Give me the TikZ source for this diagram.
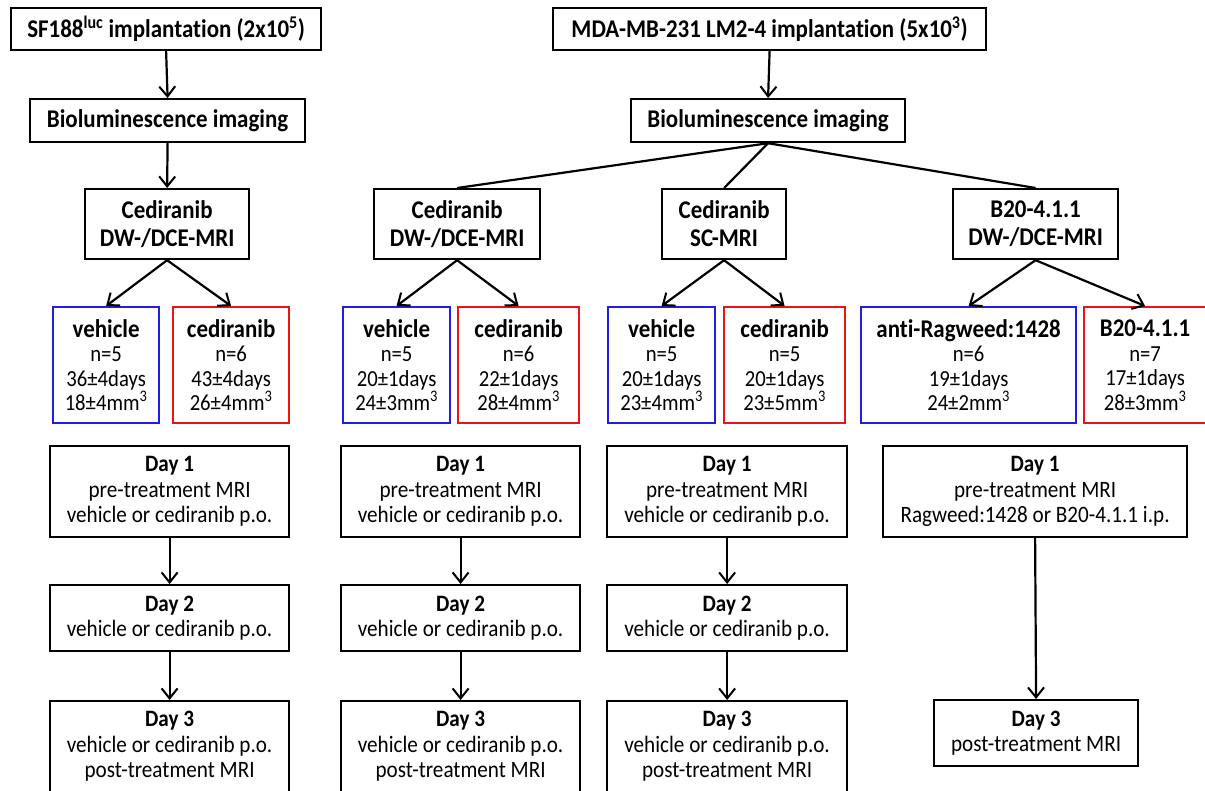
\documentclass[tikz,border=0pt]{standalone}
\usepackage{fontspec}
\setmainfont{Carlito}[Ligatures=CommonOff, FakeStretch=0.9]
\usetikzlibrary{arrows.meta}
\definecolor{gblue}{RGB}{30,30,230}
\definecolor{gred}{RGB}{235,20,20}
\tikzset{
  bx/.style={draw=black, line width=2.2pt, anchor=north west, inner sep=0pt, align=center,
    font=\fontsize{23.5}{25.5}\selectfont},
  big/.style={bx, font=\fontsize{25.5}{28}\selectfont\bfseries},
  grp/.style={bx, minimum height=116pt, font=\fontsize{23}{24.5}\selectfont},
  veh/.style={grp, draw=gblue},
  ced/.style={grp, draw=gred},
  arr/.style={line width=2.2pt, -{Straight Barb[length=10pt,width=16pt,line width=2pt]}},
  ln/.style={line width=2.2pt}
}
\newcommand{\hd}[1]{{\fontsize{25.5}{24.5}\selectfont\bfseries #1}}
\begin{document}
\begin{tikzpicture}[x=1pt,y=-1pt]
\useasboundingbox (0,0) rectangle (1205,790);
\clip (0,0) rectangle (1205,790);
% top
\node[big, minimum width=310pt, minimum height=42pt] (sf) at (10,7) {SF188\textsuperscript{luc} implantation (2x10\textsuperscript{5})};
\node[big, minimum width=433pt, minimum height=42pt] (mda) at (552,7) {MDA-MB-231 LM2-4 implantation (5x10\textsuperscript{3})};
\node[big, minimum width=275pt, minimum height=43pt] (bio1) at (29,98) {Bioluminescence imaging};
\node[big, minimum width=274pt, minimum height=43pt] (bio2) at (630,98) {Bioluminescence imaging};
% treatment
\node[big, minimum width=164pt, minimum height=70pt] (c1) at (84,188) {Cediranib\\DW-/DCE-MRI};
\node[big, minimum width=166pt, minimum height=70pt] (c2) at (373,188) {Cediranib\\DW-/DCE-MRI};
\node[big, minimum width=124pt, minimum height=70pt] (c3) at (661,188) {Cediranib\\SC-MRI};
\node[big, minimum width=165pt, minimum height=70pt] (c4) at (952,188) {B20-4.1.1\\DW-/DCE-MRI};
% groups
\node[veh, minimum width=106pt] (v1) at (52,306) {\hd{vehicle}\\n=5\\36±4days\\18±4mm\textsuperscript{3}};
\node[ced, minimum width=116pt] (r1) at (172,306) {\hd{cediranib}\\n=6\\43±4days\\26±4mm\textsuperscript{3}};
\node[veh, minimum width=107pt] (v2) at (342,306) {\hd{vehicle}\\n=5\\20±1days\\24±3mm\textsuperscript{3}};
\node[ced, minimum width=121pt] (r2) at (457,306) {\hd{cediranib}\\n=6\\22±1days\\28±4mm\textsuperscript{3}};
\node[veh, minimum width=107pt] (v3) at (607,306) {\hd{vehicle}\\n=5\\20±1days\\23±4mm\textsuperscript{3}};
\node[ced, minimum width=121pt] (r3) at (723,306) {\hd{cediranib}\\n=5\\20±1days\\23±5mm\textsuperscript{3}};
\node[veh, minimum width=215pt] (v4) at (860,306) {\hd{anti-Ragweed:1428}\\n=6\\19±1days\\24±2mm\textsuperscript{3}};
\node[ced, minimum width=122pt] (r4) at (1083,306) {\hd{B20-4.1.1}\\n=7\\17±1days\\28±3mm\textsuperscript{3}};
% day boxes
\node[bx, minimum width=239pt, minimum height=91pt] (a1) at (49,445) {\textbf{Day 1}\\pre-treatment MRI\\vehicle or cediranib p.o.};
\node[bx, minimum width=239pt, minimum height=91pt] (b1) at (340,445) {\textbf{Day 1}\\pre-treatment MRI\\vehicle or cediranib p.o.};
\node[bx, minimum width=240pt, minimum height=91pt] (e1) at (606,445) {\textbf{Day 1}\\pre-treatment MRI\\vehicle or cediranib p.o.};
\node[bx, minimum width=304pt, minimum height=91pt] (f1) at (882,445) {\textbf{Day 1}\\pre-treatment MRI\\Ragweed:1428 or B20-4.1.1 i.p.};
\node[bx, minimum width=239pt, minimum height=66pt] (a2) at (49,584) {\textbf{Day 2}\\vehicle or cediranib p.o.};
\node[bx, minimum width=239pt, minimum height=66pt] (b2) at (340,584) {\textbf{Day 2}\\vehicle or cediranib p.o.};
\node[bx, minimum width=240pt, minimum height=66pt] (e2) at (606,584) {\textbf{Day 2}\\vehicle or cediranib p.o.};
\node[bx, minimum width=239pt, minimum height=91pt] (a3) at (49,700) {\textbf{Day 3}\\vehicle or cediranib p.o.\\post-treatment MRI};
\node[bx, minimum width=239pt, minimum height=91pt] (b3) at (340,700) {\textbf{Day 3}\\vehicle or cediranib p.o.\\post-treatment MRI};
\node[bx, minimum width=240pt, minimum height=91pt] (e3) at (606,700) {\textbf{Day 3}\\vehicle or cediranib p.o.\\post-treatment MRI};
\node[bx, minimum width=204pt, minimum height=66pt] (f3) at (933,699) {\textbf{Day 3}\\post-treatment MRI};
% connectors
\draw[arr] (sf.south) -- (bio1.north);
\draw[arr] (bio1.south) -- (c1.north);
\draw[arr] (mda.south) -- (bio2.north);
\draw[ln] (bio2.south) -- (c2.north);
\draw[ln] (bio2.south) -- (c3.north);
\draw[ln] (bio2.south) -- (c4.north);
\draw[arr] (c1.south) -- (v1.north);
\draw[arr] (c1.south) -- (r1.north);
\draw[arr] (c2.south) -- (v2.north);
\draw[arr] (c2.south) -- (r2.north);
\draw[arr] (c3.south) -- (v3.north);
\draw[arr] (c3.south) -- (r3.north);
\draw[arr] (c4.south) -- (v4.north);
\draw[arr] (c4.south) -- (r4.north);
\draw[arr] (a1.south) -- (a2.north);
\draw[arr] (a2.south) -- (a3.north);
\draw[arr] (b1.south) -- (b2.north);
\draw[arr] (b2.south) -- (b3.north);
\draw[arr] (e1.south) -- (e2.north);
\draw[arr] (e2.south) -- (e3.north);
\draw[arr] (f1.south) -- (f3.north);
\end{tikzpicture}
\end{document}
